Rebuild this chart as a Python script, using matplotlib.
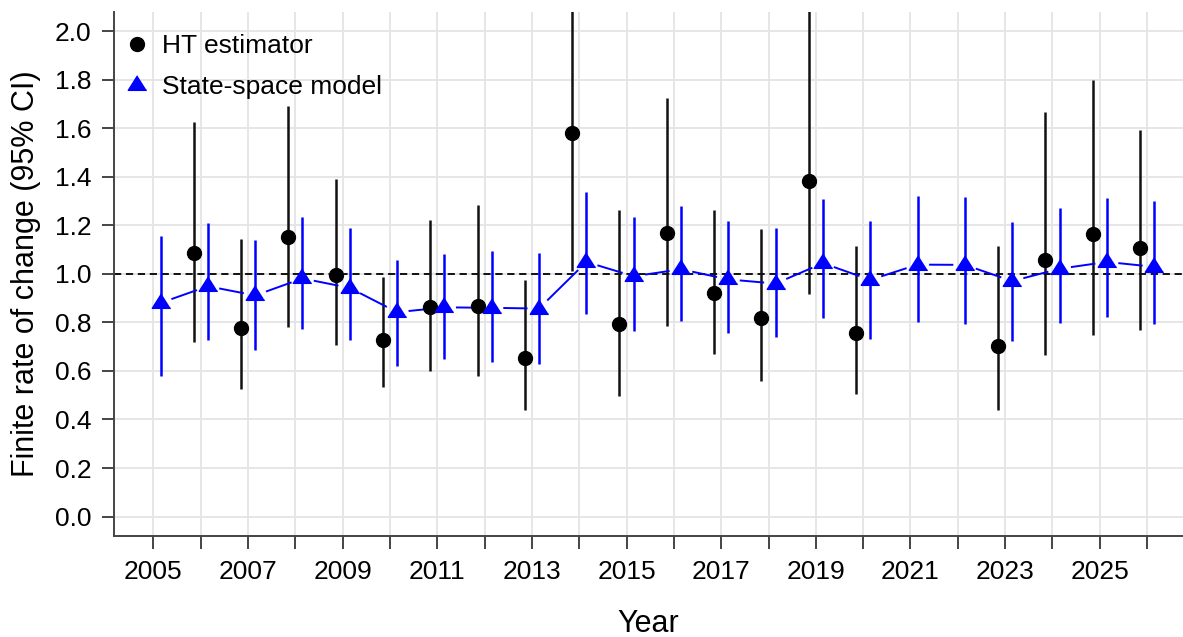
import matplotlib
matplotlib.use("Agg")
import matplotlib.pyplot as plt
import numpy as np
from matplotlib.lines import Line2D

plt.rcParams['font.family'] = ['Liberation Sans', 'DejaVu Sans']

# state-space model, every year
years = list(range(2005, 2027))
ss_est = [0.880, 0.949, 0.911, 0.981, 0.942, 0.842, 0.862, 0.860, 0.857, 1.049, 0.990,
          1.019, 0.977, 0.960, 1.044, 0.975, 1.038, 1.037, 0.970, 1.021, 1.049, 1.029]
ss_lo = [0.581, 0.727, 0.688, 0.773, 0.729, 0.621, 0.648, 0.638, 0.627, 0.833, 0.766,
         0.804, 0.758, 0.738, 0.819, 0.732, 0.801, 0.793, 0.722, 0.799, 0.823, 0.793]
ss_hi = [1.156, 1.208, 1.138, 1.233, 1.190, 1.059, 1.082, 1.096, 1.086, 1.337, 1.234,
         1.281, 1.216, 1.188, 1.307, 1.218, 1.322, 1.318, 1.214, 1.273, 1.314, 1.301]

# HT estimator (no estimate for 2005, 2021, 2022)
ht_years = [2006, 2007, 2008, 2009, 2010, 2011, 2012, 2013, 2014, 2015, 2016, 2017,
            2018, 2019, 2020, 2023, 2024, 2025, 2026]
ht_est = [1.085, 0.778, 1.151, 0.997, 0.729, 0.863, 0.868, 0.655, 1.579, 0.793,
          1.168, 0.922, 0.818, 1.382, 0.755, 0.703, 1.056, 1.164, 1.108]
ht_lo = [0.719, 0.525, 0.779, 0.707, 0.534, 0.601, 0.579, 0.437, 1.012, 0.495,
         0.786, 0.668, 0.560, 0.919, 0.505, 0.437, 0.666, 0.748, 0.770]
ht_hi = [1.625, 1.145, 1.690, 1.392, 0.986, 1.222, 1.282, 0.973, 2.46, 1.263,
         1.725, 1.264, 1.186, 2.10, 1.116, 1.116, 1.666, 1.800, 1.593]

yticks = [0.0, 0.2, 0.4, 0.6, 0.8, 1.0, 1.2, 1.4, 1.6, 1.8, 2.0]
xlabels = [str(y) if y % 2 == 1 else '' for y in years]

off = 0.15
x_ss = np.array(years) + off
x_ht = np.array(ht_years) - off

tri = [(0, 1), (-0.95, -0.5), (0.95, -0.5)]  # triangle centred on centroid like R pch 17

fig = plt.figure(figsize=(11.83, 6.37), dpi=100)
ax = fig.add_axes([0.0961, 0.1586, 0.9039, 0.823])
ax.set_xlim(2004.16, 2026.76)
ax.set_ylim(-0.08, 2.08)

ax.set_xticks(years)
ax.set_xticklabels(xlabels)
ax.set_yticks(yticks)
ax.set_yticklabels(['%.1f' % v for v in yticks])
ax.grid(True, color='#e4e4e4', lw=1.3, zorder=0)
ax.set_axisbelow(True)

ax.axhline(1.0, color='black', lw=1.3, ls=(0, (4, 2.6)), zorder=1)

ax.vlines(x_ht, ht_lo, ht_hi, color='#111111', lw=1.8, zorder=2)
ax.vlines(x_ss, ss_lo, ss_hi, color='blue', lw=1.8, zorder=2)

# R type="b" style line: segments with gaps around points
gap = 12.5
pts = ax.transData.transform(np.column_stack([x_ss, ss_est]))
inv = ax.transData.inverted()
for i in range(len(pts) - 1):
    p0, p1 = pts[i], pts[i + 1]
    d = p1 - p0
    L = np.hypot(*d)
    if L <= 2 * gap:
        continue
    u = d / L
    seg = inv.transform(np.array([p0 + u * gap, p1 - u * gap]))
    ax.plot(seg[:, 0], seg[:, 1], color='blue', lw=1.4, zorder=3)

ax.plot(x_ht, ht_est, ls='none', marker='o', ms=10, color='black', zorder=4)
ax.plot(x_ss, ss_est, ls='none', marker=tri, ms=14, color='blue', zorder=4)

for s in ['top', 'right']:
    ax.spines[s].set_visible(False)
for s in ['left', 'bottom']:
    ax.spines[s].set_color('#444444')
    ax.spines[s].set_linewidth(1.4)
ax.tick_params(axis='both', direction='out', length=9, width=1.4, color='#444444',
               labelsize=19, labelcolor='black')
ax.tick_params(axis='y', pad=7)
ax.tick_params(axis='x', pad=8)

ax.set_xlabel('Year', fontsize=22, labelpad=18)
ax.set_ylabel('Finite rate of change (95% CI)', fontsize=22, labelpad=10)

handles = [Line2D([], [], ls='none', marker='o', ms=10, color='black'),
           Line2D([], [], ls='none', marker=tri, ms=14, color='blue')]
ax.legend(handles, ['HT estimator', 'State-space model'], loc='upper left',
          bbox_to_anchor=(0.0, 0.977), frameon=False, fontsize=19,
          handletextpad=0.43, borderaxespad=0.0, borderpad=0.4,
          labelspacing=0.65, handlelength=1.0)

fig.savefig('out.png', dpi=100)
